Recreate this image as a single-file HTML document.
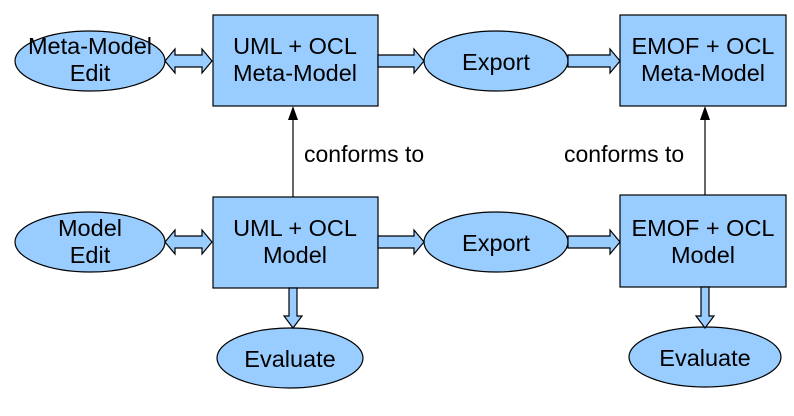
<!DOCTYPE html>
<html><head><style>body{margin:0;background:#fff}svg{display:block}</style></head><body>
<svg width="794" height="416" xmlns="http://www.w3.org/2000/svg" font-family="Liberation Sans, Arial, sans-serif" font-size="23.5">
<g fill="#99ccff" stroke="#000" stroke-width="1.2">
<rect x="213" y="15" width="165" height="91"/>
<rect x="213" y="197" width="165" height="91"/>
<rect x="620" y="15" width="166" height="91"/>
<rect x="620" y="195" width="166" height="92"/>
<ellipse cx="90" cy="61" rx="75" ry="30"/>
<ellipse cx="496" cy="61" rx="72" ry="30"/>
<ellipse cx="90" cy="242" rx="75" ry="30"/>
<ellipse cx="496" cy="242" rx="72" ry="30"/>
<ellipse cx="290" cy="358" rx="73" ry="30"/>
<ellipse cx="705" cy="357" rx="76" ry="30"/>
<path d="M165,61 L175,49 L175,55 L202,55 L202,49 L212,61 L202,73 L202,67 L175,67 L175,73 Z"/>
<path d="M165,242 L175,230 L175,236 L202,236 L202,230 L212,242 L202,254 L202,248 L175,248 L175,254 Z"/>
<path d="M378,55 L414,55 L414,49 L424,61 L414,73 L414,67 L378,67 Z"/>
<path d="M568,55 L610,55 L610,49 L620,61 L610,73 L610,67 L568,67 Z"/>
<path d="M378,236 L414,236 L414,230 L424,242 L414,254 L414,248 L378,248 Z"/>
<path d="M568,236 L610,236 L610,230 L620,242 L610,254 L610,248 L568,248 Z"/>
<path d="M289,288 L297,288 L297,316 L302,316 L293,328 L284,316 L289,316 Z"/>
<path d="M701,287 L709,287 L709,316 L714,316 L705,328 L696,316 L701,316 Z"/>
</g>
<g stroke="#000" stroke-width="1.2">
<line x1="293" y1="197" x2="293" y2="118"/>
<line x1="705" y1="195" x2="705" y2="118"/>
</g>
<path d="M293,106 L288,120 L298,120 Z"/>
<path d="M705,106 L700,120 L710,120 Z"/>
<g text-anchor="middle" fill="#000">
<text x="295" y="54">UML + OCL</text><text x="295" y="81">Meta-Model</text>
<text x="295" y="236">UML + OCL</text><text x="295" y="263">Model</text>
<text x="703" y="54">EMOF + OCL</text><text x="703" y="81">Meta-Model</text>
<text x="703" y="236">EMOF + OCL</text><text x="703" y="263">Model</text>
<text x="90" y="54">Meta-Model</text><text x="90" y="81">Edit</text>
<text x="90" y="236">Model</text><text x="90" y="263">Edit</text>
<text x="496" y="70">Export</text>
<text x="496" y="251">Export</text>
<text x="290" y="367">Evaluate</text>
<text x="705" y="366">Evaluate</text>
</g>
<text x="304" y="162" font-size="23">conforms to</text>
<text x="564" y="162" font-size="23">conforms to</text>
</svg>
</body></html>
